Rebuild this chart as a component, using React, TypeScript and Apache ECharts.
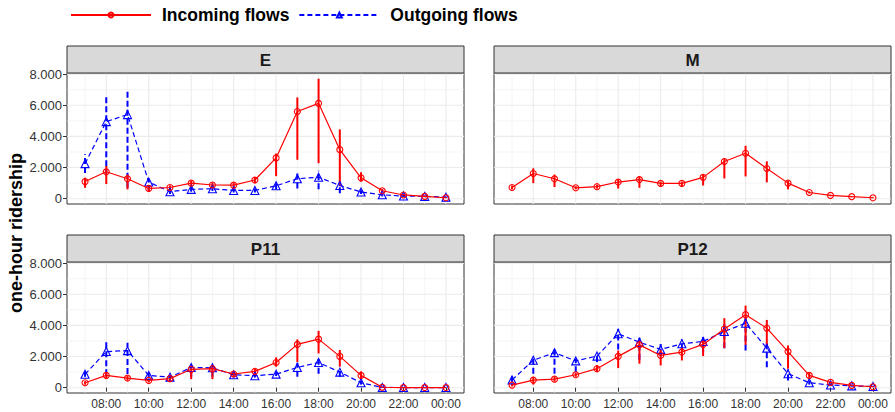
import React, { useEffect, useRef } from "react";
import * as echarts from "echarts";

// Hours of the day (24 = midnight of the next day)
const hours = [7, 8, 9, 10, 11, 12, 13, 14, 15, 16, 17, 18, 19, 20, 21, 22, 23, 24];
const hourTicks = [8, 10, 12, 14, 16, 18, 20, 22, 24];
const hourMinor = [7, 9, 11, 13, 15, 17, 19, 21, 23];
const ridershipTicks = [0, 2000, 4000, 6000, 8000];
const ridershipMinor = [1000, 3000, 5000, 7000];

const panelNames = ["E", "M", "P11", "P12"];

// E
const eIn = [1100, 1730, 1280, 660, 720, 1000, 880, 870, 1200, 2620, 5600, 6120, 3150, 1340, 510, 240, 150, 60];
const eInLow = [700, 940, 600, 450, 550, 800, 700, 700, 1000, 1450, 2500, 2280, 800, 1100, 400, 180, 100, 30];
const eInHigh = [1350, 2100, 1550, 850, 850, 1150, 1050, 1050, 1400, 2900, 6500, 7700, 4450, 1700, 620, 320, 200, 90];
const eOut = [2250, 4950, 5400, 1070, 450, 600, 640, 530, 530, 830, 1280, 1380, 850, 430, 250, 170, 150, 100];
const eOutLow = [1650, 1500, 700, 500, 300, 450, 500, 400, 400, 600, 650, 600, 350, 300, 150, 100, 100, 60];
const eOutHigh = [2850, 6600, 6900, 1260, 600, 750, 800, 650, 650, 1000, 1650, 1800, 1100, 550, 350, 250, 200, 130];

// M
const mIn = [720, 1620, 1280, 700, 770, 1070, 1230, 980, 980, 1370, 2390, 2920, 1940, 1000, 400, 210, 130, 60];
const mInLow = [600, 1000, 750, 600, 650, 650, 700, 800, 750, 850, 1300, 1430, 1050, 600, 330, 160, 100, 30];
const mInHigh = [850, 1950, 1550, 800, 900, 1250, 1430, 1100, 1100, 1550, 2600, 3400, 2400, 1150, 470, 260, 160, 90];

// P11
const p11In = [320, 790, 620, 470, 580, 1180, 1220, 880, 1050, 1620, 2780, 3120, 2010, 790, 30, 10, 10, 10];
const p11InLow = [200, 550, 450, 350, 400, 550, 550, 700, 900, 1350, 1650, 2200, 1350, 500, 0, 0, 0, 0];
const p11InHigh = [420, 1000, 780, 560, 700, 1300, 1350, 1000, 1200, 1950, 3100, 3650, 2420, 1050, 60, 20, 20, 20];
const p11Out = [860, 2320, 2380, 790, 680, 1300, 1280, 830, 770, 870, 1300, 1620, 1000, 320, 20, 10, 10, 10];
const p11OutLow = [700, 800, 880, 600, 550, 700, 700, 650, 650, 750, 700, 900, 700, 200, 0, 0, 0, 0];
const p11OutHigh = [1050, 3030, 2880, 950, 800, 1450, 1450, 950, 900, 1000, 1600, 1850, 1250, 450, 40, 20, 20, 20];

// P12
const p12In = [170, 490, 550, 830, 1220, 2010, 2750, 2070, 2290, 2780, 3770, 4690, 3820, 2320, 790, 340, 150, 60];
const p12InLow = [80, 200, 400, 700, 1000, 1260, 1540, 1430, 1750, 2030, 2540, 2750, 2710, 1220, 550, 250, 100, 30];
const p12InHigh = [260, 700, 700, 950, 1450, 2390, 3030, 2460, 2600, 3030, 4460, 5270, 4350, 2710, 1000, 420, 200, 90];
const p12Out = [500, 1760, 2250, 1720, 2030, 3460, 2920, 2460, 2820, 2970, 3610, 4140, 2540, 900, 320, 170, 120, 80];
const p12OutLow = [350, 900, 900, 1000, 1640, 2460, 1800, 2000, 2450, 2300, 2540, 2390, 1320, 470, 200, 100, 80, 50];
const p12OutHigh = [800, 1960, 2500, 1860, 2180, 3780, 3200, 2800, 3100, 3400, 4100, 4520, 2930, 1170, 450, 250, 180, 120];

const panels = [
  { inc: [eIn, eInLow, eInHigh], out: [eOut, eOutLow, eOutHigh] },
  { inc: [mIn, mInLow, mInHigh], out: null },
  { inc: [p11In, p11InLow, p11InHigh], out: [p11Out, p11OutLow, p11OutHigh] },
  { inc: [p12In, p12InLow, p12InHigh], out: [p12Out, p12OutLow, p12OutHigh] },
];

const FONT = '"Liberation Sans", Arial, Helvetica, sans-serif';
const RED = "#FF0000";
const BLUE = "#0000FF";

// Panel geometry (facet layout)
const COL_X = [67, 494];
const ROW_Y = [73, 262];
const PANEL_W = 397;
const PANEL_H = 131;
const STRIP_H = 27;

const hourLabel = (v: number) => String(v % 24).padStart(2, "0") + ":00";
const ridershipLabel = (v: number) => (v === 0 ? "0" : `${v / 1000}.000`);

function gridLineItem(params: any, api: any) {
  const cs = params.coordSys;
  const vertical = api.value(2) === 1;
  const major = api.value(3) === 1;
  const p = api.coord([api.value(0), api.value(1)]);
  const shape = vertical
    ? { x1: p[0], y1: cs.y, x2: p[0], y2: cs.y + cs.height }
    : { x1: cs.x, y1: p[1], x2: cs.x + cs.width, y2: p[1] };
  return {
    type: "line",
    shape,
    style: { stroke: "#EBEBEB", lineWidth: major ? 1.1 : 0.55 },
  };
}

function rangeRenderer(color: string, dash: number[] | null) {
  return (params: any, api: any) => {
    const x = api.value(0);
    const a = api.coord([x, api.value(1)]);
    const b = api.coord([x, api.value(2)]);
    return {
      type: "line",
      shape: { x1: a[0], y1: a[1], x2: b[0], y2: b[1] },
      style: { stroke: color, lineWidth: 2, lineDash: dash || undefined },
    };
  };
}

function buildOption() {
  const grids: any[] = [];
  const xAxes: any[] = [];
  const yAxes: any[] = [];
  const series: any[] = [];
  const graphics: any[] = [];

  panels.forEach((panel, i) => {
    const col = i % 2;
    const row = Math.floor(i / 2);
    const left = COL_X[col];
    const top = ROW_Y[row];
    grids.push({
      left,
      top,
      width: PANEL_W,
      height: PANEL_H,
      show: true,
      backgroundColor: "#FFFFFF",
      borderColor: "#333333",
      borderWidth: 1,
      containLabel: false,
      outerBoundsMode: "none",
    });
    const bottomRow = row === 1;
    const leftCol = col === 0;
    xAxes.push({
      type: "value",
      gridIndex: i,
      min: 6.15,
      max: 24.85,
      axisLine: { show: false },
      splitLine: { show: false },
      axisTick: {
        show: bottomRow,
        customValues: hourTicks,
        length: 4,
        lineStyle: { color: "#333333", width: 1 },
      },
      axisLabel: {
        show: bottomRow,
        customValues: hourTicks,
        formatter: hourLabel,
        fontFamily: FONT,
        fontSize: 12,
        color: "#333333",
        margin: 5,
      },
    });
    yAxes.push({
      type: "value",
      gridIndex: i,
      min: -340,
      max: 8070,
      axisLine: { show: false },
      splitLine: { show: false },
      axisTick: {
        show: leftCol,
        customValues: ridershipTicks,
        length: 4,
        lineStyle: { color: "#333333", width: 1 },
      },
      axisLabel: {
        show: leftCol,
        customValues: ridershipTicks,
        formatter: ridershipLabel,
        fontFamily: FONT,
        fontSize: 13,
        color: "#333333",
        margin: 5,
      },
    });

    // background grid lines
    const gridData: number[][] = [];
    ridershipTicks.forEach((v) => gridData.push([15, v, 0, 1]));
    ridershipMinor.forEach((v) => gridData.push([15, v, 0, 0]));
    hourTicks.forEach((v) => gridData.push([v, 4000, 1, 1]));
    hourMinor.forEach((v) => gridData.push([v, 4000, 1, 0]));
    series.push({
      type: "custom",
      name: "grid-" + i,
      xAxisIndex: i,
      yAxisIndex: i,
      z: 0,
      silent: true,
      renderItem: gridLineItem,
      encode: { x: 0, y: 1 },
      data: gridData,
    });

    if (panel.out) {
      const [, lo, hi] = panel.out;
      series.push({
        type: "custom",
        name: "Outgoing range " + i,
        xAxisIndex: i,
        yAxisIndex: i,
        z: 2,
        silent: true,
        renderItem: rangeRenderer(BLUE, [6, 3]),
        encode: { x: 0, y: [1, 2] },
        data: hours.map((h, k) => [h, lo[k], hi[k]]),
      });
    }
    {
      const [, lo, hi] = panel.inc;
      series.push({
        type: "custom",
        name: "Incoming range " + i,
        xAxisIndex: i,
        yAxisIndex: i,
        z: 2,
        silent: true,
        renderItem: rangeRenderer(RED, null),
        encode: { x: 0, y: [1, 2] },
        data: hours.map((h, k) => [h, lo[k], hi[k]]),
      });
    }
    if (panel.out) {
      const [vals] = panel.out;
      series.push({
        type: "line",
        name: "Outgoing flows",
        xAxisIndex: i,
        yAxisIndex: i,
        z: 3,
        silent: true,
        symbol: "triangle",
        symbolSize: 8,
        showAllSymbol: true,
        itemStyle: { color: "rgba(255,255,255,0)", borderColor: BLUE, borderWidth: 1.1 },
        lineStyle: { color: BLUE, width: 1.2, type: [5, 3] },
        data: hours.map((h, k) => [h, vals[k]]),
      });
    }
    {
      const [vals] = panel.inc;
      series.push({
        type: "line",
        name: "Incoming flows",
        xAxisIndex: i,
        yAxisIndex: i,
        z: 4,
        silent: true,
        symbol: "circle",
        symbolSize: 6,
        showAllSymbol: true,
        itemStyle: { color: "rgba(255,255,255,0)", borderColor: RED, borderWidth: 1.1 },
        lineStyle: { color: RED, width: 1.2 },
        data: hours.map((h, k) => [h, vals[k]]),
      });
    }

    // facet strip
    graphics.push({
      type: "rect",
      shape: { x: left, y: top - STRIP_H, width: PANEL_W, height: STRIP_H },
      style: { fill: "#D9D9D9", stroke: "#333333", lineWidth: 1 },
      z: 10,
    });
    graphics.push({
      type: "text",
      x: left + PANEL_W / 2,
      y: top - STRIP_H / 2 + 1,
      style: {
        text: panelNames[i],
        align: "center",
        verticalAlign: "middle",
        fontFamily: FONT,
        fontSize: 17,
        fontWeight: "bold",
        fill: "#1A1A1A",
      },
      z: 11,
    });
  });

  graphics.push({
    type: "text",
    x: 16,
    y: 233,
    rotation: Math.PI / 2,
    style: {
      text: "one-hour ridership",
      align: "center",
      verticalAlign: "middle",
      fontFamily: FONT,
      fontSize: 18,
      fontWeight: "bold",
      fill: "#000000",
    },
    z: 11,
  });

  return {
    animation: false,
    backgroundColor: "#FFFFFF",
    legend: {
      data: ["Incoming flows", "Outgoing flows"],
      left: 70,
      top: 6,
      padding: 0,
      itemWidth: 80,
      itemHeight: 6,
      itemGap: 9,
      selectedMode: false,
      textStyle: {
        fontFamily: FONT,
        fontSize: 17.5,
        fontWeight: "bold",
        color: "#000000",
        padding: [0, 0, 0, 6],
      },
    },
    grid: grids,
    xAxis: xAxes,
    yAxis: yAxes,
    series,
    graphic: graphics,
  };
}

export default function App() {
  const ref = useRef<HTMLDivElement>(null);
  useEffect(() => {
    if (!ref.current) return;
    const chart = echarts.init(ref.current, null, { renderer: "svg" });
    chart.setOption(buildOption() as any);
    return () => chart.dispose();
  }, []);
  return (
    <div
      ref={ref}
      style={{ position: "fixed", left: 0, top: 0, width: 895, height: 412, background: "#FFFFFF" }}
    />
  );
}
